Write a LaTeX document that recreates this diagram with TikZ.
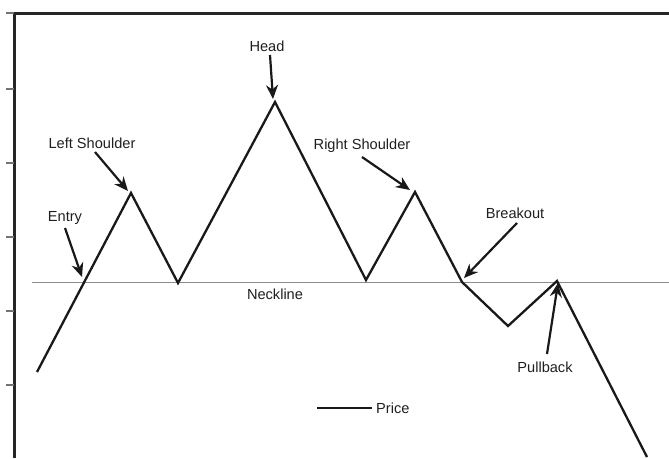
\documentclass[tikz,border=0pt]{standalone}
\usepackage{fontspec}
\setmainfont{Liberation Sans}
\usetikzlibrary{arrows.meta}
\begin{document}
\begin{tikzpicture}[x=1pt,y=-1pt,
  lbl/.style={font=\fontsize{14.6}{17}\selectfont, inner sep=0pt, text=black!88},
  axisline/.style={line width=3pt, draw=black!85},
  tickmark/.style={line width=2.5pt, draw=black!55},
  neck/.style={line width=0.8pt, draw=black!45},
  price/.style={line width=2.3pt, draw=black!90, line join=miter},
  pointer/.style={line width=2.2pt, draw=black!90, -{Stealth[length=14pt,width=12pt]}}]
\useasboundingbox (0,0) rectangle (669,458);
% frame
\coordinate (corner) at (14,13);
\coordinate (axbot) at (14,458);
\coordinate (axright) at (669,13);
\draw[axisline] (axbot) -- (corner) -- (axright);
\foreach \yy in {13,89,163,237,311,385}{\draw[tickmark] (6,\yy) -- (14,\yy);}
% neckline
\coordinate (nl) at (32,282);
\coordinate (nr) at (669,282);
\draw[neck] (nl) -- (nr);
\node[lbl] (necklbl) at (275,294) {Neckline};
% price path
\coordinate (p0) at (37,372);
\coordinate (ls) at (131,193);
\coordinate (t1) at (178,283);
\coordinate (hd) at (275,102);
\coordinate (t2) at (366,280);
\coordinate (rs) at (415,192);
\coordinate (bo) at (462,282);
\coordinate (lo) at (508,326);
\coordinate (pb) at (557,281);
\coordinate (pend) at (647,457);
\draw[price] (p0) -- (ls) -- (t1) -- (hd) -- (t2) -- (rs) -- (bo) -- (lo) -- (pb) -- (pend);
% labels
\node[lbl] (entry) at (65,218) {Entry};
\node[lbl] (lsl) at (92,143) {Left Shoulder};
\node[lbl] (head) at (267,46) {Head};
\node[lbl] (rsl) at (362,146) {Right Shoulder};
\node[lbl] (brk) at (515,213) {Breakout};
\node[lbl] (pbl) at (545,367) {Pullback};
% arrow tails and tips
\coordinate (entryT) at (65,228);   \coordinate (entryH) at (82,277);
\coordinate (lsT) at (95,152);      \coordinate (lsH) at (128,191);
\coordinate (hdT) at (270,55);      \coordinate (hdH) at (273,99);
\coordinate (rsT) at (362,157);     \coordinate (rsH) at (410,190);
\coordinate (brkT) at (517,223);    \coordinate (brkH) at (464,278);
\coordinate (pbT) at (547,354);     \coordinate (pbH) at (558,283);
\draw[pointer] (entryT) -- (entryH);
\draw[pointer] (lsT) -- (lsH);
\draw[pointer] (hdT) -- (hdH);
\draw[pointer] (rsT) -- (rsH);
\draw[pointer] (brkT) -- (brkH);
\draw[pointer] (pbT) -- (pbH);
% legend
\coordinate (lg1) at (317,408);
\coordinate (lg2) at (372,408);
\draw[price] (lg1) -- (lg2);
\node[lbl, anchor=west] (lgtext) at (376,408) {Price};
\end{tikzpicture}
\end{document}
